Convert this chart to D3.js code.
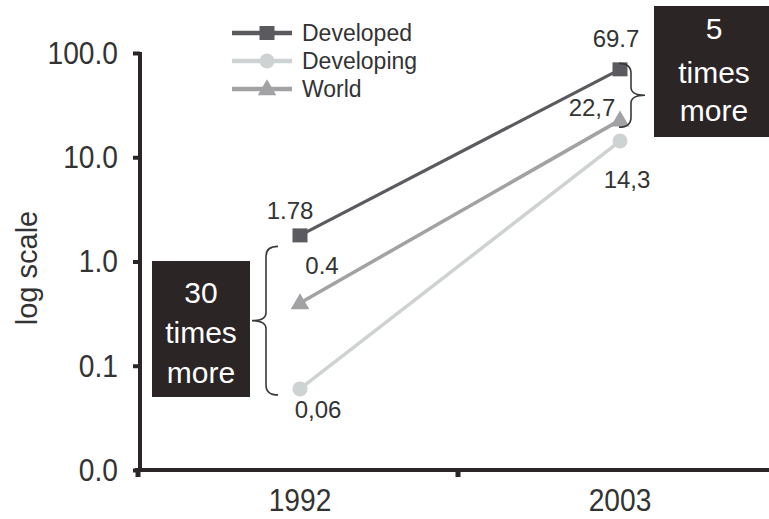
<!DOCTYPE html>
<html>
<head>
<meta charset="utf-8">
<script src="https://cdn.jsdelivr.net/npm/d3@7"></script>
<style>
  body { margin: 0; background: #fff; }
  text { font-family: "Liberation Sans", Arial, sans-serif; fill: #333; }
</style>
</head>
<body>
<div id="canvas"></div>
<script>
var _width = 769;
var _height = 519;

// data
var years = ["1992", "2003"];
var seriesNames = ["Developed", "Developing", "World"];
var developed = [1.78, 69.7];
var developing = [0.06, 14.3];
var world = [0.4, 22.7];
var developedLabels = ["1.78", "69.7"];
var developingLabels = ["0,06", "14,3"];
var worldLabels = ["0.4", "22,7"];
var yTicks = [0.01, 0.1, 1, 10, 100];
var yTickLabels = ["0.0", "0.1", "1.0", "10.0", "100.0"];
var leftNote = ["30", "times", "more"];
var rightNote = ["5", "times", "more"];

var svg = d3.select('#canvas').append('svg')
    .attr('width', _width)
    .attr('height', _height);

svg.append('rect').attr('width', _width).attr('height', _height).attr('fill', '#fff');

var x = d3.scaleBand().domain(years).range([140, 780]);
var y = d3.scaleLog().domain([0.01, 100]).range([470, 53]);

function cx(d) { return x(d) + x.bandwidth() / 2; }

// left axis
var yAxis = svg.append('g')
    .attr('transform', 'translate(140,0)')
    .call(d3.axisLeft(y).tickValues(yTicks).tickFormat(function (d, i) { return yTickLabels[i]; }).tickSize(7).tickPadding(14));
yAxis.select('.domain').attr('stroke', '#2b2527').attr('stroke-width', 4).attr('d', 'M0,52V472');
yAxis.selectAll('.tick line').attr('stroke', '#2b2527').attr('stroke-width', 4);
yAxis.selectAll('.tick text')
    .attr('x', null)
    .attr('transform', 'translate(-22,0) scale(0.88,1)')
    .style('font-size', '32px')
    .style('font-family', '"Liberation Sans", Arial, sans-serif')
    .attr('fill', '#333');

// bottom axis
svg.append('line')
    .attr('x1', 135).attr('x2', _width)
    .attr('y1', 470).attr('y2', 470)
    .style('stroke', '#2b2527').style('stroke-width', 4);

svg.selectAll('.xtick').data(years).enter().append('line')
    .attr('class', 'xtick')
    .attr('x1', function (d) { return x(d) - 2; })
    .attr('x2', function (d) { return x(d) - 2; })
    .attr('y1', 470).attr('y2', 477)
    .style('stroke', '#2b2527').style('stroke-width', 5);

svg.selectAll('.xlabel').data(years).enter().append('text')
    .attr('class', 'xlabel')
    .attr('transform', function (d) { return 'translate(' + cx(d) + ',511) scale(0.88,1)'; })
    .attr('text-anchor', 'middle')
    .style('font-size', '32px')
    .text(function (d) { return d; });

svg.append('text')
    .attr('transform', 'translate(37,268) rotate(-90)')
    .attr('text-anchor', 'middle')
    .style('font-size', '29px')
    .text('log scale');

// series
var series = [
    { name: seriesNames[0], values: developed, labels: developedLabels, color: '#5b5a5e', width: 3.2, shape: 'square',
      off: [[-10, -16], [-4, -22]] },
    { name: seriesNames[1], values: developing, labels: developingLabels, color: '#cfd2d2', width: 3.5, shape: 'circle',
      off: [[18, 29], [7, 47]] },
    { name: seriesNames[2], values: world, labels: worldLabels, color: '#a2a2a4', width: 3.5, shape: 'triangle',
      off: [[22, -29], [-28, -4]] }
];

function marker(g, shape, color, px, py) {
    if (shape == 'square') {
        g.append('rect').attr('x', px - 7.5).attr('y', py - 7).attr('width', 15).attr('height', 14).attr('fill', color);
    } else if (shape == 'circle') {
        g.append('circle').attr('cx', px).attr('cy', py).attr('r', 7.5).attr('fill', color);
    } else {
        g.append('path').attr('d', d3.symbol(d3.symbolTriangle, 150)()).attr('transform', 'translate(' + px + ',' + (py + 1) + ')').attr('fill', color);
    }
}

var line = d3.line()
    .x(function (d, i) { return cx(years[i]); })
    .y(function (d) { return y(d); });

// draw order: developing, world, developed on top
[1, 2, 0].forEach(function (k) {
    var s = series[k];
    var g = svg.append('g');
    g.append('path').datum(s.values)
        .attr('d', line)
        .attr('fill', 'none')
        .attr('stroke', s.color)
        .attr('stroke-width', s.width);
    s.values.forEach(function (v, i) {
        marker(g, s.shape, s.color, cx(years[i]), y(v));
    });
});

series.forEach(function (s) {
    s.values.forEach(function (v, i) {
        svg.append('text')
            .attr('x', cx(years[i]) + s.off[i][0])
            .attr('y', y(v) + s.off[i][1])
            .attr('text-anchor', 'middle')
            .style('font-size', '24px')
            .text(s.labels[i]);
    });
});

// legend
var legend = svg.append('g').attr('transform', 'translate(232,33)');
series.forEach(function (s, i) {
    var ly = i * 28;
    legend.append('line')
        .attr('x1', 0).attr('x2', 60)
        .attr('y1', ly).attr('y2', ly)
        .style('stroke', s.color).style('stroke-width', 4.5);
    marker(legend, s.shape, s.color, 35, ly);
    legend.append('text')
        .attr('x', 70).attr('y', ly + 8)
        .style('font-size', '23px')
        .text(s.name);
});

// braces
function brace(x0, top, bottom, dir) {
    var mid = (top + bottom) / 2;
    var e = 12 * dir, t = -14 * dir;
    return 'M' + (x0 + e) + ',' + top +
        'Q' + x0 + ',' + top + ' ' + x0 + ',' + (top + 10) +
        'L' + x0 + ',' + (mid - 8) +
        'Q' + x0 + ',' + mid + ' ' + (x0 + t) + ',' + mid +
        'Q' + x0 + ',' + mid + ' ' + x0 + ',' + (mid + 8) +
        'L' + x0 + ',' + (bottom - 10) +
        'Q' + x0 + ',' + bottom + ' ' + (x0 + e) + ',' + bottom;
}

svg.append('path')
    .attr('d', brace(266, y(developed[0]) + 11, y(developing[0]) + 6, 1))
    .attr('fill', 'none').attr('stroke', '#3a3a3a').attr('stroke-width', 1.6);

svg.append('path')
    .attr('d', brace(631, y(developed[1]) - 6, y(world[1]) + 7, -1))
    .attr('fill', 'none').attr('stroke', '#3a3a3a').attr('stroke-width', 1.6);

// note boxes
function note(bx, by, bw, bh, lines, lineYs) {
    svg.append('rect').attr('x', bx).attr('y', by).attr('width', bw).attr('height', bh).attr('fill', '#2b2526');
    lines.forEach(function (t, i) {
        svg.append('text')
            .attr('x', bx + bw / 2)
            .attr('y', by + lineYs[i])
            .attr('text-anchor', 'middle')
            .style('font-size', '30px')
            .style('fill', '#fff')
            .text(t);
    });
}
note(152, 261, 98, 136, leftNote, [42, 82, 122]);
note(654, 6, 120, 131, rightNote, [33, 77, 115]);
</script>
</body>
</html>
